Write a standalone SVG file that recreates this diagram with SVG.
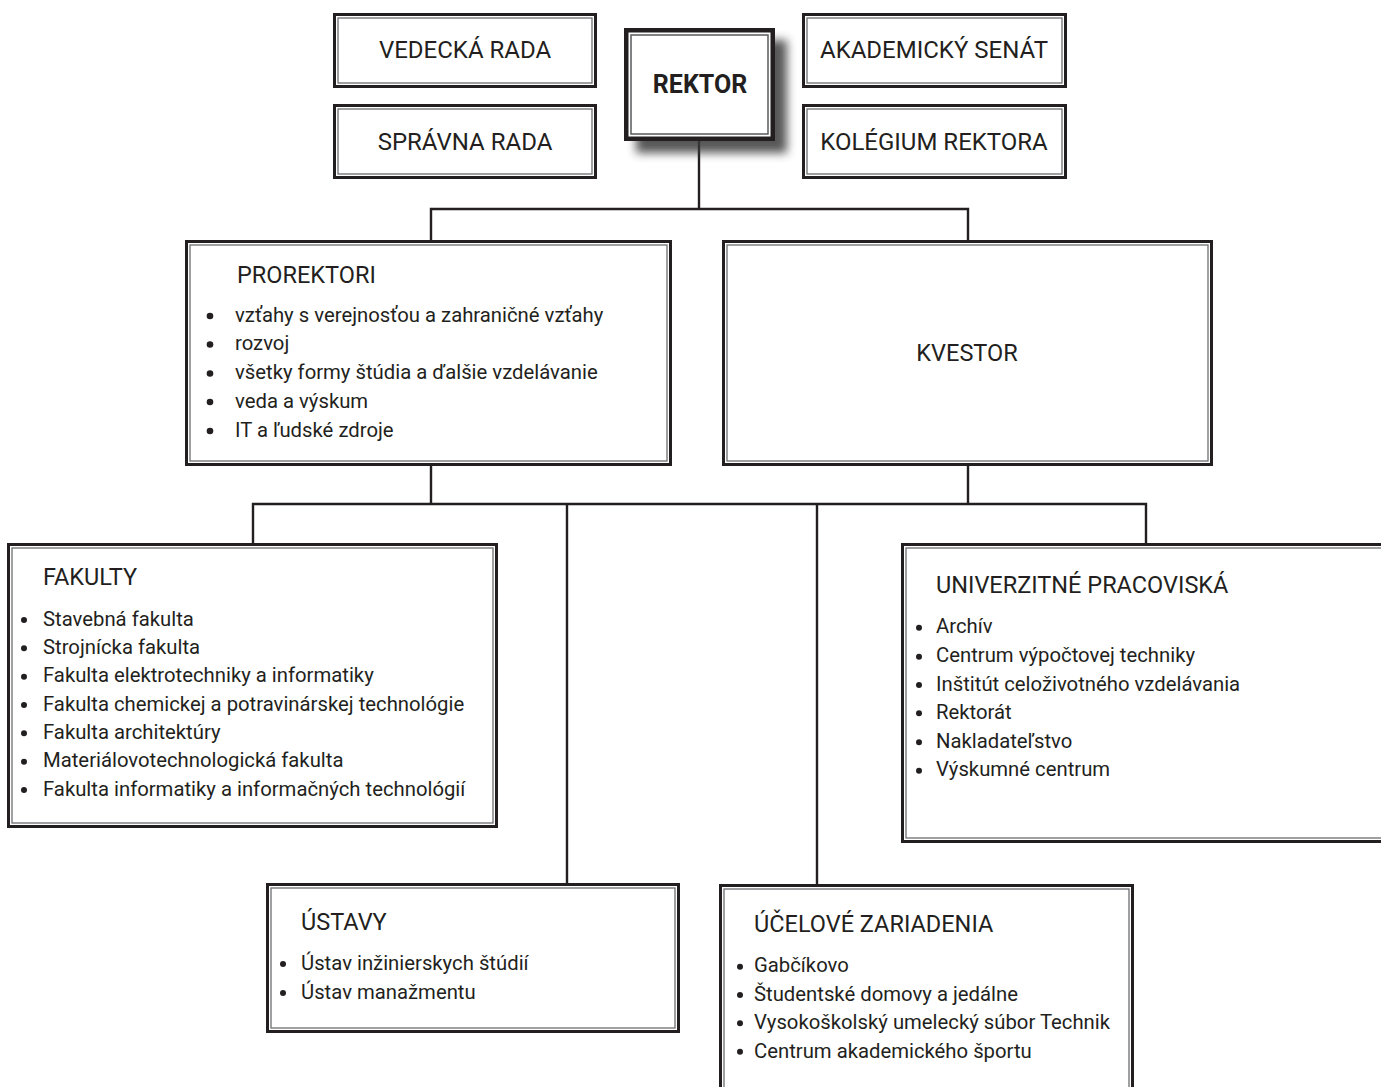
<svg xmlns="http://www.w3.org/2000/svg" width="1381" height="1087" viewBox="0 0 1381 1087">
<style>
  .o{fill:#fff;stroke:#231f20;stroke-width:3}
  .i{fill:none;stroke:#6d6e71;stroke-width:1.3}
  .ro{fill:#fff;stroke:#231f20;stroke-width:4.5}
  .ri{fill:none;stroke:#58595b;stroke-width:1.5}
  text{font-family:Roboto,"Liberation Sans",sans-serif;fill:#231f20}
  .top{font-size:24px;text-anchor:middle}
  .t{font-size:23.5px}
  .it{font-size:20.3px}
  .b{fill:#231f20}
  .c{fill:none;stroke:#231f20;stroke-width:2.4;stroke-linejoin:miter}
</style>
<defs>
  <filter id="sh" x="-30%" y="-30%" width="160%" height="160%">
    <feGaussianBlur stdDeviation="5"/>
  </filter>
</defs>
<rect width="1381" height="1087" fill="#fff"/>
<g id="connectors">
  <path class="c" d="M699,141V209M431,240V209H968V240"/>
  <path class="c" d="M431,466V504M968,466V504M253,543V504H1146V543M567,504V883M817,504V884"/>
</g>
<g id="vedecka-rada">
  <rect class="o" x="334.5" y="14.5" width="261" height="72"/>
  <rect class="i" x="338" y="18" width="254" height="65"/>
  <text class="top" x="465" y="58">VEDECKÁ RADA</text>
</g>
<g id="spravna-rada">
  <rect class="o" x="334.5" y="105.5" width="261" height="72"/>
  <rect class="i" x="338" y="109" width="254" height="65"/>
  <text class="top" x="465" y="150">SPRÁVNA RADA</text>
</g>
<g id="rektor">
  <rect x="636" y="40" width="151" height="113" fill="#3a3a3a" opacity="0.85" filter="url(#sh)"/>
  <rect class="ro" x="626.25" y="30.25" width="146.5" height="108.5"/>
  <rect class="ri" x="631" y="35" width="137" height="99"/>
  <text x="700" y="93" font-size="25" font-weight="bold" text-anchor="middle">REKTOR</text>
</g>
<g id="akademicky-senat">
  <rect class="o" x="803.5" y="14.5" width="262" height="72"/>
  <rect class="i" x="807" y="18" width="255" height="65"/>
  <text class="top" x="934" y="58">AKADEMICKÝ SENÁT</text>
</g>
<g id="kolegium-rektora">
  <rect class="o" x="803.5" y="105.5" width="262" height="72"/>
  <rect class="i" x="807" y="109" width="255" height="65"/>
  <text class="top" x="934" y="150">KOLÉGIUM REKTORA</text>
</g>
<g id="prorektori">
  <rect class="o" x="186.5" y="241.5" width="484" height="223"/>
  <rect class="i" x="190" y="245" width="477" height="216"/>
  <text class="t" x="237" y="283">PROREKTORI</text>
  <circle class="b" cx="210" cy="316" r="3.3"/>
  <circle class="b" cx="210" cy="344.5" r="3.3"/>
  <circle class="b" cx="210" cy="373.5" r="3.3"/>
  <circle class="b" cx="210" cy="402" r="3.3"/>
  <circle class="b" cx="210" cy="431" r="3.3"/>
  <text class="it" x="235" y="321.5">vzťahy s verejnosťou a zahraničné vzťahy</text>
  <text class="it" x="235" y="350">rozvoj</text>
  <text class="it" x="235" y="379">všetky formy štúdia a ďalšie vzdelávanie</text>
  <text class="it" x="235" y="407.5">veda a výskum</text>
  <text class="it" x="235" y="436.5">IT a ľudské zdroje</text>
</g>
<g id="kvestor">
  <rect class="o" x="723.5" y="241.5" width="488" height="223"/>
  <rect class="i" x="727" y="245" width="481" height="216"/>
  <text class="t" x="967" y="361" text-anchor="middle">KVESTOR</text>
</g>
<g id="fakulty">
  <rect class="o" x="8.5" y="544.5" width="488" height="282"/>
  <rect class="i" x="12" y="548" width="481" height="275"/>
  <text class="t" x="43" y="585">FAKULTY</text>
  <circle class="b" cx="24" cy="620" r="3"/>
  <circle class="b" cx="24" cy="648.3" r="3"/>
  <circle class="b" cx="24" cy="676.7" r="3"/>
  <circle class="b" cx="24" cy="705" r="3"/>
  <circle class="b" cx="24" cy="733.3" r="3"/>
  <circle class="b" cx="24" cy="761.7" r="3"/>
  <circle class="b" cx="24" cy="790" r="3"/>
  <text class="it" x="43" y="625.5">Stavebná fakulta</text>
  <text class="it" x="43" y="654">Strojnícka fakulta</text>
  <text class="it" x="43" y="682">Fakulta elektrotechniky a informatiky</text>
  <text class="it" x="43" y="710.5">Fakulta chemickej a potravinárskej technológie</text>
  <text class="it" x="43" y="739">Fakulta architektúry</text>
  <text class="it" x="43" y="767">Materiálovotechnologická fakulta</text>
  <text class="it" x="43" y="795.5">Fakulta informatiky a informačných technológií</text>
</g>
<g id="univerzitne-pracoviska">
  <rect class="o" x="902.5" y="544.5" width="500" height="297"/>
  <rect class="i" x="906" y="548" width="493" height="290"/>
  <text class="t" x="936" y="593">UNIVERZITNÉ PRACOVISKÁ</text>
  <circle class="b" cx="919" cy="627.7" r="3"/>
  <circle class="b" cx="919" cy="656.7" r="3"/>
  <circle class="b" cx="919" cy="685" r="3"/>
  <circle class="b" cx="919" cy="713.3" r="3"/>
  <circle class="b" cx="919" cy="742.3" r="3"/>
  <circle class="b" cx="919" cy="770.7" r="3"/>
  <text class="it" x="936" y="633">Archív</text>
  <text class="it" x="936" y="662">Centrum výpočtovej techniky</text>
  <text class="it" x="936" y="690.5">Inštitút celoživotného vzdelávania</text>
  <text class="it" x="936" y="719">Rektorát</text>
  <text class="it" x="936" y="748">Nakladateľstvo</text>
  <text class="it" x="936" y="776">Výskumné centrum</text>
</g>
<g id="ustavy">
  <rect class="o" x="267.5" y="884.5" width="411" height="147"/>
  <rect class="i" x="271" y="888" width="404" height="140"/>
  <text class="t" x="301" y="930">ÚSTAVY</text>
  <circle class="b" cx="283" cy="964" r="3"/>
  <circle class="b" cx="283" cy="993" r="3"/>
  <text class="it" x="301" y="969.5">Ústav inžinierskych štúdií</text>
  <text class="it" x="301" y="998.5">Ústav manažmentu</text>
</g>
<g id="ucelove-zariadenia">
  <rect class="o" x="720.5" y="885.5" width="412" height="220"/>
  <rect class="i" x="724" y="889" width="405" height="213"/>
  <text class="t" x="754" y="932">ÚČELOVÉ ZARIADENIA</text>
  <circle class="b" cx="740" cy="966.7" r="3"/>
  <circle class="b" cx="740" cy="995" r="3"/>
  <circle class="b" cx="740" cy="1023.3" r="3"/>
  <circle class="b" cx="740" cy="1051.7" r="3"/>
  <text class="it" x="754" y="972">Gabčíkovo</text>
  <text class="it" x="754" y="1000.5">Študentské domovy a jedálne</text>
  <text class="it" x="754" y="1029">Vysokoškolský umelecký súbor Technik</text>
  <text class="it" x="754" y="1057.5">Centrum akademického športu</text>
</g>
</svg>
